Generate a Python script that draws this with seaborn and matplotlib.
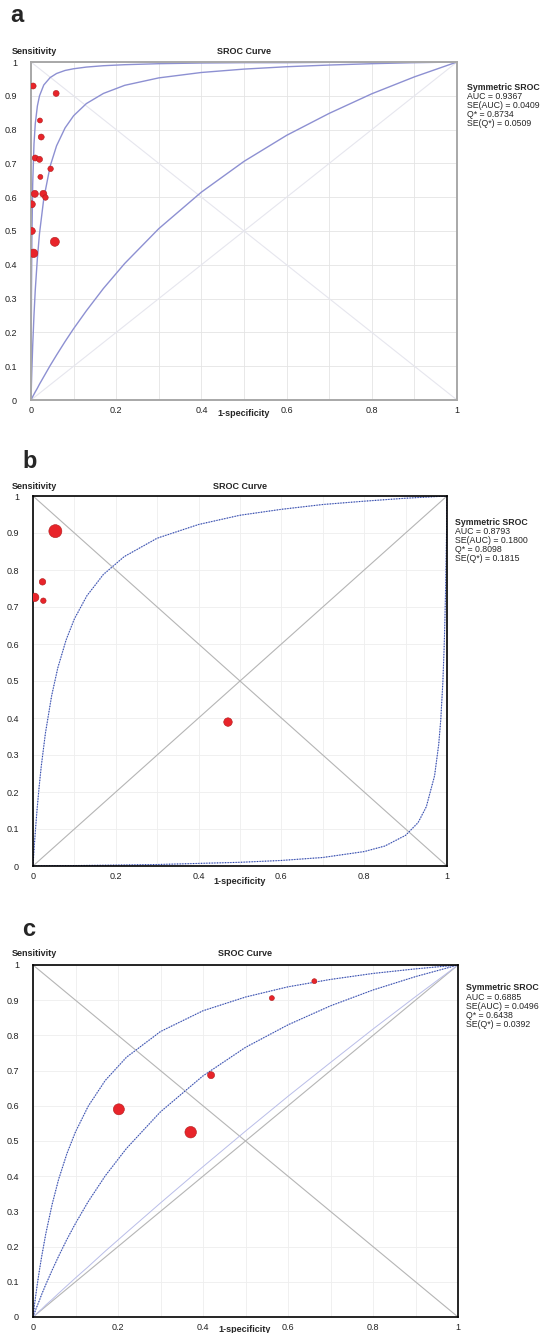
import numpy as np
import matplotlib
matplotlib.use('Agg')
import matplotlib.pyplot as plt
import seaborn as sns

# ---- data ----
# x positions (1-specificity) where the fitted curves were read
fpr_grid = [0, 0.001, 0.002, 0.004, 0.007, 0.01, 0.015, 0.02, 0.03, 0.045, 0.06, 0.08,
            0.1, 0.13, 0.17, 0.22, 0.3, 0.4, 0.5, 0.6, 0.7, 0.8, 0.9, 1.0]

# panel a
a_upper = [0, 0.306, 0.469, 0.639, 0.757, 0.817, 0.870, 0.900, 0.932, 0.954, 0.966, 0.975,
           0.980, 0.985, 0.989, 0.992, 0.995, 0.997, 0.998, 0.998, 0.999, 0.999, 1.0, 1.0]
a_sroc = [0, 0.046, 0.087, 0.161, 0.251, 0.325, 0.420, 0.493, 0.596, 0.692, 0.752, 0.805,
          0.841, 0.877, 0.907, 0.931, 0.953, 0.969, 0.979, 0.986, 0.991, 0.995, 0.998, 1.0]
a_lower = [0, 0.002, 0.005, 0.010, 0.017, 0.024, 0.035, 0.047, 0.069, 0.102, 0.133, 0.173,
           0.211, 0.264, 0.330, 0.404, 0.507, 0.615, 0.706, 0.783, 0.848, 0.906, 0.956, 1.0]
a_pt_x = [0.005, 0.059, 0.021, 0.024, 0.010, 0.020, 0.046, 0.022, 0.009, 0.029, 0.034, 0.002, 0.002, 0.056, 0.006]
a_pt_y = [0.929, 0.907, 0.827, 0.778, 0.716, 0.712, 0.684, 0.660, 0.610, 0.610, 0.599, 0.579, 0.500, 0.468, 0.434]
a_weight = [6, 6, 5, 6, 6, 6, 5.5, 5, 7, 7, 5.5, 7, 7, 9, 8.5]
a_stats = ['AUC = 0.9367', 'SE(AUC) = 0.0409', 'Q* = 0.8734', 'SE(Q*) = 0.0509']

# panel b
b_sroc = [0, 0.018, 0.035, 0.068, 0.113, 0.155, 0.216, 0.270, 0.359, 0.460, 0.536, 0.611,
          0.668, 0.730, 0.788, 0.836, 0.886, 0.923, 0.948, 0.964, 0.977, 0.986, 0.994, 1.0]
b_low_fpr = [0, 0.17, 0.3, 0.4, 0.5, 0.6, 0.7, 0.8, 0.85, 0.9, 0.93, 0.95, 0.97, 0.98,
             0.985, 0.99, 0.993, 0.995, 0.997, 0.998, 0.999, 1.0]
b_lower = [0, 0.002, 0.004, 0.007, 0.010, 0.015, 0.023, 0.039, 0.054, 0.083, 0.117, 0.160,
           0.244, 0.329, 0.396, 0.497, 0.587, 0.666, 0.769, 0.833, 0.909, 1.0]
b_pt_x = [0.054, 0.023, 0.004, 0.025, 0.471]
b_pt_y = [0.905, 0.768, 0.726, 0.717, 0.389]
b_weight = [13, 6.5, 8.5, 5.5, 8.5]
b_stats = ['AUC = 0.8793', 'SE(AUC) = 0.1800', 'Q* = 0.8098', 'SE(Q*) = 0.1815']

# panel c
c_upper = [0, 0.010, 0.020, 0.039, 0.066, 0.092, 0.132, 0.169, 0.236, 0.320, 0.390, 0.465,
           0.526, 0.599, 0.672, 0.738, 0.811, 0.870, 0.909, 0.938, 0.959, 0.976, 0.989, 1.0]
c_sroc = [0, 0.003, 0.007, 0.013, 0.023, 0.032, 0.047, 0.063, 0.092, 0.133, 0.172, 0.221,
          0.266, 0.328, 0.401, 0.479, 0.583, 0.685, 0.766, 0.830, 0.884, 0.929, 0.967, 1.0]
c_lower = [0, 0.001, 0.002, 0.004, 0.008, 0.011, 0.017, 0.022, 0.034, 0.050, 0.067, 0.089,
           0.111, 0.143, 0.187, 0.240, 0.324, 0.427, 0.528, 0.627, 0.723, 0.818, 0.910, 1.0]
c_pt_x = [0.662, 0.562, 0.419, 0.202, 0.371]
c_pt_y = [0.954, 0.906, 0.687, 0.590, 0.525]
c_weight = [5, 5, 7, 11, 11.5]
c_stats = ['AUC = 0.6885', 'SE(AUC) = 0.0496', 'Q* = 0.6438', 'SE(Q*) = 0.0392']

# reference diagonals
diag_x = [0, 1]
diag_up = [0, 1]
diag_down = [1, 0]

sns.set_style('white')
plt.rcParams['font.family'] = ['Liberation Sans', 'DejaVu Sans']

W, H = 547, 1333
fig = plt.figure(figsize=(W / 100, H / 100), dpi=100)


def fx(x):
    return x / W


def fy(y):
    return 1 - y / H


def make_axes(x0, x1, ytop, ybot):
    return fig.add_axes([fx(x0), fy(ybot), fx(x1 - x0), (ybot - ytop) / H])


def style_axes(ax, spine_col, grid_col, spine_lw):
    ax.set_xlim(0, 1)
    ax.set_ylim(0, 1)
    ax.set_xticks(np.linspace(0, 1, 6))
    ax.set_xticks(np.linspace(0, 1, 11), minor=True)
    ax.set_yticks(np.linspace(0, 1, 11))
    lab = lambda v: '0' if v == 0 else ('1' if v == 1 else '%.1f' % v)
    ax.set_xticklabels([lab(v) for v in np.linspace(0, 1, 6)])
    ax.set_yticklabels([lab(v) for v in np.linspace(0, 1, 11)])
    ax.grid(True, which='both', color=grid_col, lw=0.6)
    ax.set_axisbelow(True)
    ax.tick_params(axis='both', which='major', labelsize=6.5, length=4, width=0.8,
                   pad=2, color=spine_col, labelcolor='#222222')
    ax.tick_params(axis='y', pad=6)
    ax.tick_params(axis='x', which='both', length=0, pad=4)
    for s in ax.spines.values():
        s.set_color(spine_col)
        s.set_linewidth(spine_lw)
    ax.set_xlabel('')
    ax.set_ylabel('')


def curve(ax, x, y, dotted=False):
    sns.lineplot(x=x, y=y, ax=ax, estimator=None, sort=False, color='#b9bde8', lw=0.7)
    if dotted:
        sns.lineplot(x=x, y=y, ax=ax, estimator=None, sort=False, color='#2c4aa6',
                     lw=0.8, linestyle=(0, (1, 1.4)))


def points(ax, x, y, w):
    sns.scatterplot(x=x, y=y, ax=ax, s=[(0.72 * d) ** 2 for d in w], color='#e8242a',
                    edgecolor='#b01c1c', linewidth=0.4, zorder=5, legend=False)


def labels(letter, lx, ly, ytitle, xlab_y, xcen, legx, legy, stats):
    fig.text(fx(lx), fy(ly), letter, fontsize=17, fontweight='bold', va='center', ha='left')
    fig.text(fx(12), fy(ytitle), 'Sensitivity', fontsize=6.5, fontweight='bold', va='center')
    fig.text(fx(xcen), fy(ytitle), 'SROC Curve', fontsize=6.5, fontweight='bold',
             va='center', ha='center')
    fig.text(fx(xcen), fy(xlab_y), '1-specificity', fontsize=6.5, fontweight='bold',
             va='center', ha='center')
    fig.text(fx(legx), fy(legy), 'Symmetric SROC', fontsize=6.3, fontweight='bold', va='center')
    for i, t in enumerate(stats):
        fig.text(fx(legx), fy(legy + 9.2 * (i + 1)), t, fontsize=6.3, va='center')


# ---- panel a ----
ax = make_axes(31, 457, 62, 400)
style_axes(ax, '#a8a8a8', '#e4e4e4', 1.4)
sns.lineplot(x=diag_x, y=diag_up, ax=ax, color='#e6e6ee', lw=0.8)
sns.lineplot(x=diag_x, y=diag_down, ax=ax, color='#e6e6ee', lw=0.8)
curve(ax, fpr_grid, a_upper)
curve(ax, fpr_grid, a_sroc)
curve(ax, fpr_grid, a_lower)
for l in ax.lines[2:]:
    l.set_color('#8d90d2')
    l.set_linewidth(1.0)
points(ax, a_pt_x, a_pt_y, a_weight)
labels('a', 10, 16, 52, 414, 244, 467, 87, a_stats)

# ---- panel b ----
ax = make_axes(33, 447, 496, 866)
style_axes(ax, 'black', '#eeeeee', 1.2)
sns.lineplot(x=diag_x, y=diag_up, ax=ax, color='#b5b5b5', lw=0.8)
sns.lineplot(x=diag_x, y=diag_down, ax=ax, color='#b5b5b5', lw=0.8)
curve(ax, fpr_grid, b_sroc, dotted=True)
curve(ax, b_low_fpr, b_lower, dotted=True)
points(ax, b_pt_x, b_pt_y, b_weight)
labels('b', 22, 462, 486, 881, 240, 455, 522, b_stats)

# ---- panel c ----
ax = make_axes(33, 458, 965, 1317)
style_axes(ax, 'black', '#eeeeee', 1.2)
sns.lineplot(x=diag_x, y=diag_up, ax=ax, color='#b5b5b5', lw=0.8)
sns.lineplot(x=diag_x, y=diag_down, ax=ax, color='#b5b5b5', lw=0.8)
curve(ax, fpr_grid, c_upper, dotted=True)
curve(ax, fpr_grid, c_sroc, dotted=True)
curve(ax, fpr_grid, c_lower)
points(ax, c_pt_x, c_pt_y, c_weight)
labels('c', 22, 930, 953, 1330, 245, 466, 988, c_stats)

fig.savefig('out.png', dpi=100)
